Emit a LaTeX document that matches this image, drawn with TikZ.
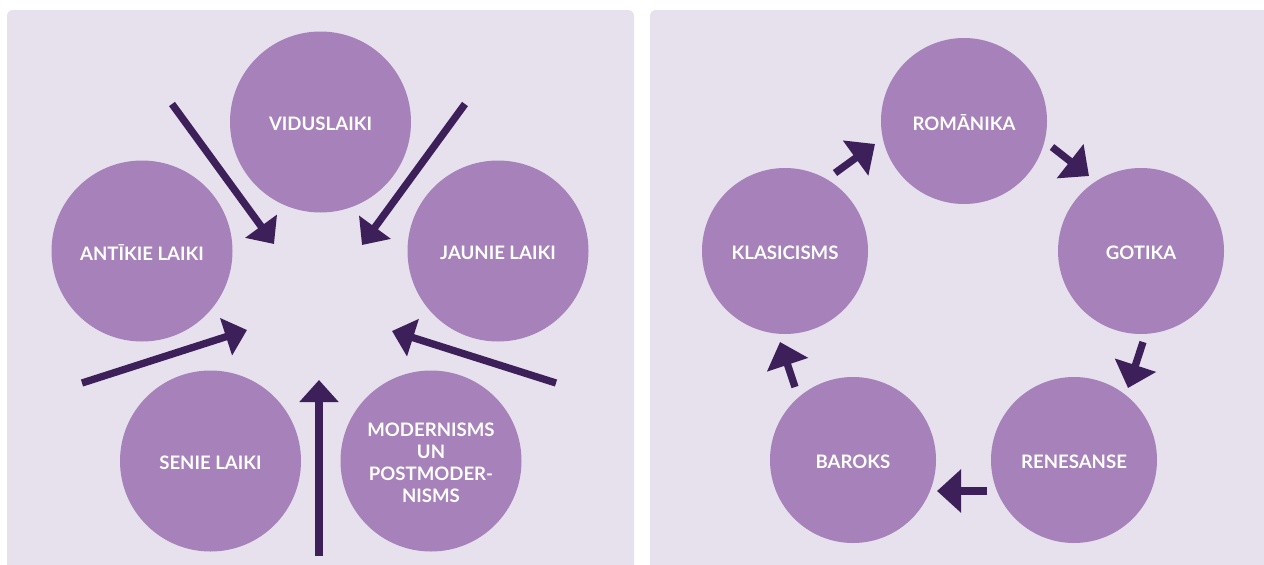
\documentclass[tikz,border=0pt]{standalone}
\usepackage{fontspec}
\setmainfont{Lato}
\usetikzlibrary{arrows.meta}
\definecolor{panelbg}{RGB}{230,225,237}
\definecolor{circfill}{RGB}{166,129,186}
\definecolor{arrcol}{RGB}{61,31,90}
\tikzset{
  panel/.style={fill=panelbg, draw=none, rounded corners=6pt},
  bigc/.style={circle, fill=circfill, draw=none, minimum size=181pt, inner sep=0pt,
    text=white, font=\fontsize{18.6}{22}\selectfont\bfseries, align=center},
  smallc/.style={circle, fill=circfill, draw=none, minimum size=166pt, inner sep=0pt,
    text=white, font=\fontsize{18.6}{22}\selectfont\bfseries, align=center},
  lbl/.style={text=white, font=\fontsize{18.6}{22}\selectfont\bfseries, align=center, inner sep=0pt, yshift=-1.5pt},
  larr/.style={draw=arrcol, line width=7.3pt, -{Triangle[length=22pt,width=38pt]}, arrcol},
  rarr/.style={draw=arrcol, line width=7.3pt, -{Triangle[length=24pt,width=42pt]}, arrcol}
}
\begin{document}
\begin{tikzpicture}[x=1pt,y=-1pt]
\useasboundingbox (0,0) rectangle (1264,565);
\clip (0,0) rectangle (1264,565);
\fill[white] (0,0) rectangle (1264,565);
% panels
\fill[panel] (7,10) rectangle (634,590);
\fill[panel] (650,10) rectangle (1290,590);
% left panel circles
\node[bigc] (vid) at (320.5,122) {};
\node[bigc] (ant) at (142,251) {};
\node[bigc] (jau) at (498,251) {};
\node[bigc] (sen) at (210.5,461) {};
\node[bigc] (mod) at (431,461) {};
\node[lbl] (vidt) at (vid.center) {VIDUSLAIKI};
\node[lbl] (antt) at (ant.center) {ANTĪKIE LAIKI};
\node[lbl] (jaut) at (jau.center) {JAUNIE LAIKI};
\node[lbl] (sent) at (sen.center) {SENIE LAIKI};
\node[lbl] (modt) at (mod.center) {MODERNISMS\\UN\\POSTMODER-\\NISMS};
% left panel arrows
\coordinate (a1s) at (172,104); \coordinate (a1e) at (274,244);
\coordinate (a2s) at (465,104); \coordinate (a2e) at (362,245);
\coordinate (a3s) at (82,383);  \coordinate (a3e) at (247,330);
\coordinate (a4s) at (556,383); \coordinate (a4e) at (392,331);
\coordinate (a5s) at (319,556); \coordinate (a5e) at (319,380);
\draw[larr] (a1s) -- (a1e);
\draw[larr] (a2s) -- (a2e);
\draw[larr] (a3s) -- (a3e);
\draw[larr] (a4s) -- (a4e);
\draw[larr] (a5s) -- (a5e);
% right panel circles
\node[smallc] (rom) at (964,121) {};
\node[smallc] (got) at (1141,251) {};
\node[smallc] (kla) at (785,251) {};
\node[smallc] (ren) at (1074,460) {};
\node[smallc] (bar) at (853,460) {};
\node[lbl] (romt) at (rom.center) {ROMĀNIKA};
\node[lbl] (gott) at (got.center) {GOTIKA};
\node[lbl] (klat) at (kla.center) {KLASICISMS};
\node[lbl] (rent) at (ren.center) {RENESANSE};
\node[lbl] (bart) at (bar.center) {BAROKS};
% right panel arrows
\coordinate (b1s) at (835,173);  \coordinate (b1e) at (875,144);
\coordinate (b2s) at (1052,147); \coordinate (b2e) at (1089,176);
\coordinate (b3s) at (1143,342); \coordinate (b3e) at (1128,388);
\coordinate (b4s) at (987,491);  \coordinate (b4e) at (937,491);
\coordinate (b5s) at (795,387);  \coordinate (b5e) at (780,342);
\draw[rarr] (b1s) -- (b1e);
\draw[rarr] (b2s) -- (b2e);
\draw[rarr] (b3s) -- (b3e);
\draw[rarr] (b4s) -- (b4e);
\draw[rarr] (b5s) -- (b5e);
\end{tikzpicture}
\end{document}
